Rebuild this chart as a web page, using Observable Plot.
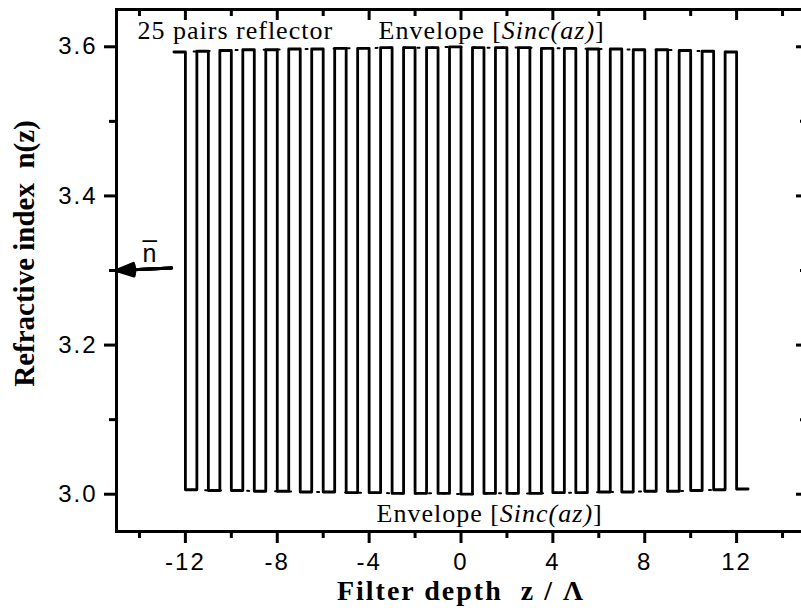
<!DOCTYPE html>
<html><head><meta charset="utf-8">
<script src="https://cdn.jsdelivr.net/npm/d3@7"></script>
<script src="https://cdn.jsdelivr.net/npm/@observablehq/plot@0.6"></script>
<style>
html,body{margin:0;padding:0;background:#fff;overflow:hidden;}
#chart{width:801px;height:610px;overflow:hidden;}
</style></head><body><div id="chart"></div>
<script>
// start of each high-index layer (z / Lambda); each pair = high layer then low layer
const layerStarts = [-12.5,-11.5,-10.5,-9.5,-8.5,-7.5,-6.5,-5.5,-4.5,-3.5,-2.5,-1.5,-0.5,0.5,1.5,2.5,3.5,4.5,5.5,6.5,7.5,8.5,9.5,10.5,11.5];
// high-index level of each pair (Sinc envelope, upper)
const highLevels = [3.593,3.594,3.595,3.596,3.596,3.597,3.597,3.598,3.598,3.599,3.599,3.599,3.600,3.599,3.599,3.599,3.598,3.598,3.597,3.597,3.596,3.596,3.595,3.594,3.593];
// low-index level of each pair (Sinc envelope, lower)
const lowLevels = [3.006,3.005,3.005,3.004,3.004,3.003,3.003,3.002,3.002,3.001,3.001,3.001,3.000,3.001,3.001,3.001,3.002,3.002,3.003,3.003,3.004,3.004,3.005,3.006,3.007];
const layerWidth = 0.5;

const xMajorTicks = [-12,-8,-4,0,4,8,12];
const xMinorTicks = [-14,-10,-6,-2,2,6,10,14];
const yMajorTicks = [3.0,3.2,3.4,3.6];
const yMinorTicks = [3.1,3.3,3.5];

const nMeanArrow = [{x1: -12.6, y1: 3.3035, x2: -15, y2: 3.3}];
const nMeanLabel = [{x: -13.56, y: 3.322, label: "n\u0305"}];
const arrowHeadAngles = [40, 28, 16, 6];

const xTitle = "Filter depth\u00a0\u00a0z / \u039b";
const yTitle = "Refractive index\u00a0\u00a0n(z)";
const pairsNote = "25 pairs reflector";
const envelopeNote = "Envelope [Sinc(az)]";

// build the step profile from the arrays
const profile = [];
layerStarts.forEach((z0, i) => {
  profile.push({z: z0, n: highLevels[i]});
  profile.push({z: z0 + layerWidth, n: highLevels[i]});
  profile.push({z: z0 + layerWidth, n: lowLevels[i]});
  profile.push({z: z0 + 2 * layerWidth, n: lowLevels[i]});
});
const envHigh = layerStarts.map((z0, i) => ({z: z0 + layerWidth / 2, n: highLevels[i]}));
const envLow = layerStarts.map((z0, i) => ({z: z0 + 1.5 * layerWidth, n: lowLevels[i]}));

const serif = "Liberation Serif";
const chart = Plot.plot({
  width: 805, height: 610,
  marginLeft: 116, marginRight: 0, marginTop: 9, marginBottom: 79,
  x: {domain: [-15, 15]},
  y: {domain: [2.95, 3.65]},
  style: {fontFamily: "Liberation Sans", color: "black", background: "white", maxWidth: "none"},
  marks: [
    Plot.line(envHigh, {x: "z", y: "n", stroke: "black", strokeWidth: 2, strokeDasharray: "2,12", curve: "natural"}),
    Plot.line(envLow, {x: "z", y: "n", stroke: "black", strokeWidth: 2, strokeDasharray: "2,12", curve: "natural"}),
    Plot.line(profile, {x: "z", y: "n", stroke: "black", strokeWidth: 2.8}),
    Plot.frame({strokeWidth: 3}),
    Plot.axisX({ticks: xMajorTicks, tickSize: 12, tickPadding: 9, strokeWidth: 3, fontSize: 24, label: null, tickFormat: d => `${d}`}),
    Plot.axisX({ticks: xMinorTicks, tickSize: 7, strokeWidth: 3, fill: "none", label: null}),
    Plot.axisX({anchor: "top", ticks: xMajorTicks, tickSize: -10, strokeWidth: 3, fill: "none", label: null}),
    Plot.axisX({anchor: "top", ticks: xMinorTicks, tickSize: -6, strokeWidth: 3, fill: "none", label: null}),
    Plot.axisY({ticks: yMajorTicks, tickSize: 12, tickPadding: 7, strokeWidth: 3, fontSize: 24, label: null, tickFormat: d3.format(".1f")}),
    Plot.axisY({ticks: yMinorTicks, tickSize: 7, strokeWidth: 3, fill: "none", label: null}),
    Plot.axisY({anchor: "right", ticks: yMajorTicks, tickSize: -10, strokeWidth: 3, fill: "none", label: null}),
    Plot.axisY({anchor: "right", ticks: yMinorTicks, tickSize: -6, strokeWidth: 3, fill: "none", label: null}),
    ...arrowHeadAngles.map(a => Plot.arrow(nMeanArrow, {x1: "x1", y1: "y1", x2: "x2", y2: "y2", stroke: "black", strokeWidth: 3, headLength: 15, headAngle: a})),
    Plot.text(nMeanLabel, {x: "x", y: "y", text: "label", fontSize: 25, fontFamily: "Liberation Sans"}),
    Plot.text([xTitle], {text: d => d, frameAnchor: "bottom", textAnchor: "middle", lineAnchor: "middle", dy: 60, fontSize: 28, fontWeight: "bold", fontFamily: serif}),
    Plot.text([yTitle], {text: d => d, frameAnchor: "left", textAnchor: "middle", lineAnchor: "middle", dx: -92, dy: -17, rotate: -90, fontSize: 29, fontWeight: "bold", fontFamily: serif}),
    Plot.text([pairsNote], {text: d => d, frameAnchor: "top-left", textAnchor: "start", lineAnchor: "middle", dx: 21, dy: 20.7, fontSize: 26, fontFamily: serif}),
    Plot.text([envelopeNote], {text: d => d, frameAnchor: "top-left", textAnchor: "start", lineAnchor: "middle", dx: 262, dy: 20.7, fontSize: 26, fontFamily: serif}),
    Plot.text([envelopeNote], {text: d => d, frameAnchor: "bottom-left", textAnchor: "start", lineAnchor: "middle", dx: 260, dy: -17.6, fontSize: 26, fontFamily: serif})
  ]
});
document.getElementById("chart").appendChild(chart);

// typographic post-processing: italic Sinc(az), letter spacing to match the stretched original
d3.select(chart).selectAll("text").each(function() {
  const t = this.textContent;
  const s = d3.select(this);
  if (t === envelopeNote) {
    s.text(null);
    s.append("tspan").text("Envelope [");
    s.append("tspan").attr("font-style", "italic").text("Sinc(az)");
    s.append("tspan").text("]");
    s.attr("letter-spacing", "1px");
  } else if (t === pairsNote) {
    s.attr("letter-spacing", "1px");
  } else if (t === xTitle) {
    s.attr("letter-spacing", "2px");
  } else if (/^-?\d/.test(t)) {
    s.attr("letter-spacing", "2px");
  }
});
</script></body></html>
